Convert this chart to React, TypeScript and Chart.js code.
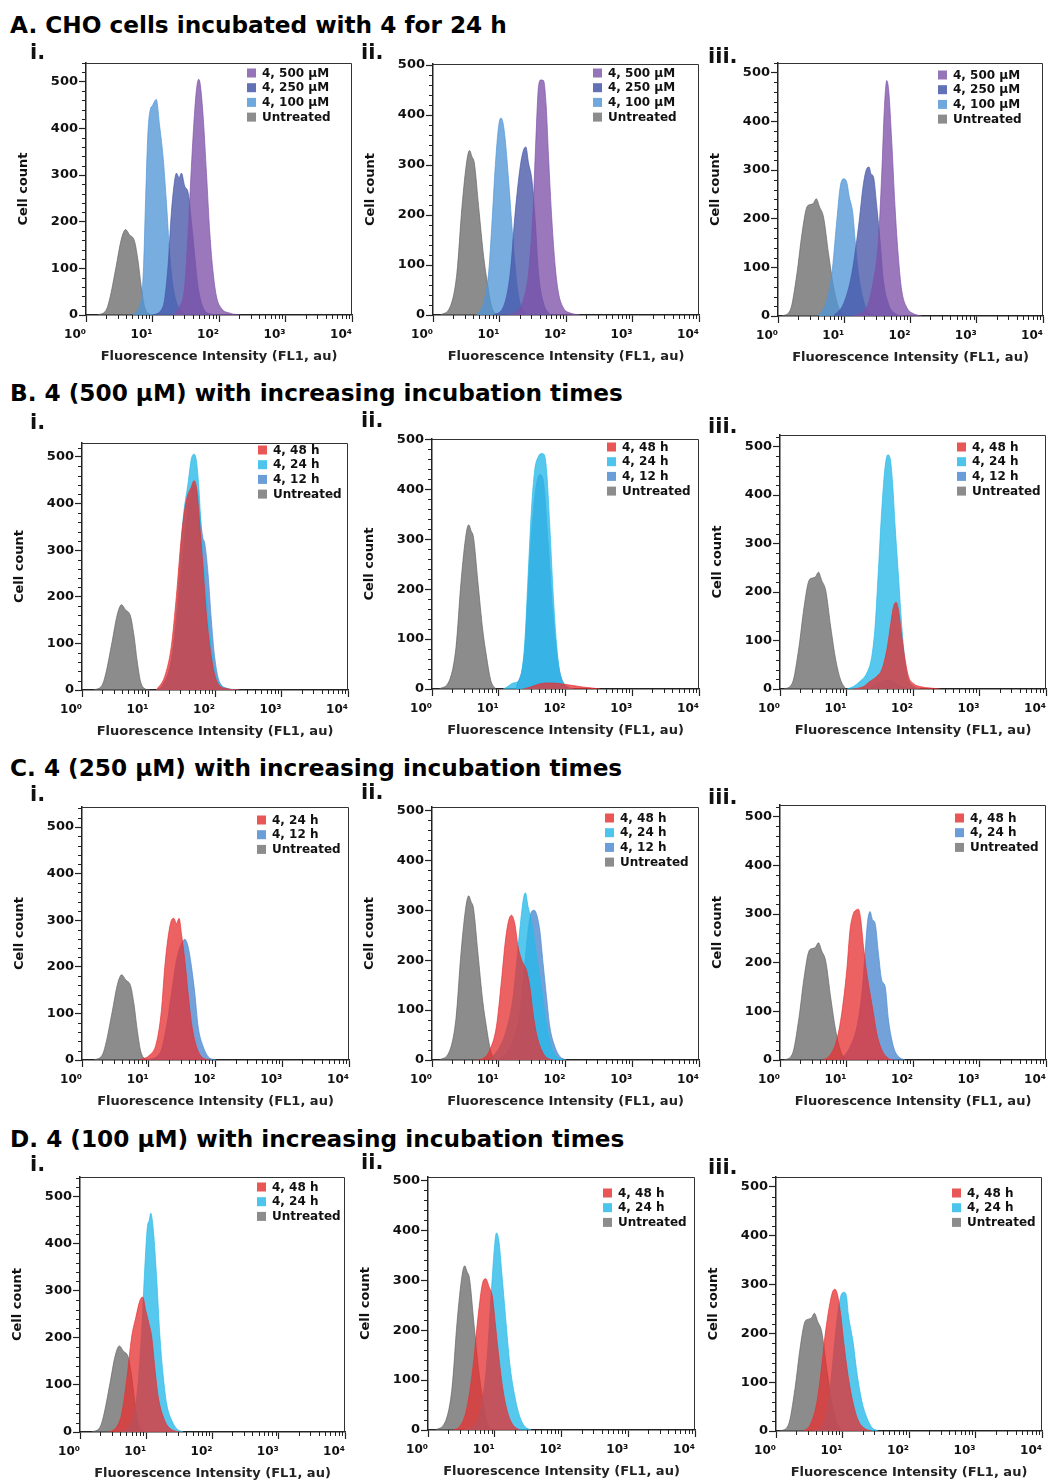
import React, { useEffect, useRef } from 'react';
import { Chart, registerables } from 'chart.js';

Chart.register(...registerables);
Chart.defaults.font.family = '"DejaVu Sans", sans-serif';
Chart.defaults.font.weight = 'bold';
Chart.defaults.color = '#111';

type Pt = [number, number];

// ---- axis ticks ----
const xTickValues = [1, 10, 100, 1000, 10000];
const xTickLabels = ['10⁰', '10¹', '10²', '10³', '10⁴'];
const xMinorMultipliers = [2, 3, 4, 5, 6, 7, 8, 9];
const yTickValues = [0, 100, 200, 300, 400, 500];
const yMinorStep = 20;

// ---- texts ----
const sectionTitles = [
  'A. CHO cells incubated with 4 for 24 h',
  'B. 4 (500 µM) with increasing incubation times',
  'C. 4 (250 µM) with increasing incubation times',
  'D. 4 (100 µM) with increasing incubation times',
];
const panelNumerals = ['i.', 'ii.', 'iii.'];
const xTitle = 'Fluorescence Intensity (FL1, au)';
const yTitle = 'Cell count';

// ---- series: [intensity (FL1, au), cell count] ----
const untreatedI: Pt[] = [[1.5, 0], [2.0, 10], [2.25, 32], [2.84, 104], [3.38, 161], [3.93, 183], [4.51, 172], [5.37, 158], [6.03, 118], [6.77, 61], [7.6, 18], [9.0, 2], [10.5, 0]];
const untreatedII: Pt[] = [[1.29, 0], [1.82, 17], [2.29, 84], [2.73, 217], [3.24, 310], [3.55, 329], [3.85, 317], [4.18, 304], [4.85, 217], [5.77, 117], [6.47, 70], [7.6, 17], [9.0, 0]];
const untreatedIII: Pt[] = [[1.15, 0], [1.53, 12], [1.93, 87], [2.3, 169], [2.73, 224], [3.07, 229], [3.44, 232], [3.78, 241], [4.24, 224], [4.87, 203], [5.79, 128], [6.89, 60], [8.19, 18], [9.74, 0]];

const a1_100: Pt[] = [[5.07, 0], [6.77, 32], [7.34, 104], [7.87, 247], [8.53, 390], [9.25, 440], [9.92, 448], [11.4, 462], [12.8, 405], [14.4, 340], [16.1, 247], [18.1, 133], [20.4, 61], [24.2, 18], [32.4, 0]];
const a1_250: Pt[] = [[10.2, 0], [14.4, 18], [17.1, 104], [19.2, 218], [21.6, 290], [22.9, 304], [25.1, 294], [27.2, 304], [30.5, 276], [34.3, 262], [38.5, 200], [43, 130], [48.5, 60], [58, 15], [75, 2], [92, 0]];
const a1_500: Pt[] = [[20.4, 0], [25.7, 18], [30.5, 61], [34.3, 175], [38.5, 319], [43.2, 440], [46.9, 494], [49.7, 505], [52.6, 491], [57.7, 426], [64.8, 304], [72.8, 175], [81.7, 90], [91.8, 39], [109, 14], [146, 4], [207, 0]];

const a2_100: Pt[] = [[4.58, 0], [5.77, 24], [6.86, 84], [7.7, 184], [8.63, 297], [9.69, 377], [10.5, 394], [11.3, 384], [12.2, 350], [13.7, 270], [15.4, 177], [17.2, 97], [19.4, 37], [23.0, 7], [29.0, 0]];
const a2_250: Pt[] = [[8.15, 0], [11.5, 17], [14.5, 84], [17.2, 204], [20.5, 297], [23.0, 330], [24.9, 336], [27.3, 304], [30.7, 270], [34.4, 190], [38.6, 84], [45.9, 24], [57.8, 0]];
const a2_500: Pt[] = [[12.9, 0], [18.3, 7], [23.0, 31], [27.3, 84], [31.8, 204], [35.2, 350], [38.6, 457], [41.9, 470], [45.9, 469], [50.4, 417], [54.6, 317], [61.3, 190], [68.8, 97], [77.1, 44], [91.7, 14], [116, 4], [163, 0]];

const a3_100: Pt[] = [[4.1, 0], [5.47, 32], [6.5, 87], [7.73, 197], [8.68, 265], [9.74, 282], [10.9, 275], [11.9, 245], [13.5, 210], [14.6, 155], [16.4, 87], [19.5, 32], [23.2, 8], [31.0, 0]];
const a3_250: Pt[] = [[6.89, 0], [9.74, 25], [13.0, 87], [16.4, 183], [19.5, 272], [21.9, 303], [23.7, 306], [25.4, 292], [27.6, 286], [31.0, 224], [34.7, 155], [39.0, 73], [46.4, 25], [58.4, 5], [78, 0]];
const a3_500: Pt[] = [[13.8, 0], [21.9, 18], [27.6, 73], [32.8, 155], [36.8, 292], [40.4, 429], [43.8, 484], [46.9, 463], [52.0, 361], [58.4, 224], [65.6, 121], [73.6, 53], [87.5, 18], [110, 5], [147, 0]];

const b1_48: Pt[] = [[13.1, 0], [17.5, 29], [22.0, 93], [26.2, 200], [31.2, 329], [37.1, 407], [44.1, 436], [48.3, 449], [52.4, 436], [58.8, 357], [66.0, 264], [74.1, 164], [88.1, 71], [105, 21], [148, 3], [235, 0]];
const b1_24: Pt[] = [[13.1, 0], [18.5, 21], [23.4, 93], [27.8, 207], [33.0, 364], [39.3, 443], [44.1, 496], [48.3, 506], [52.4, 493], [57.5, 429], [62.3, 340], [66.0, 293], [78.5, 164], [93.3, 64], [111, 18], [148, 4], [209, 0]];
const b1_12: Pt[] = [[15, 0], [22, 60], [28, 170], [35, 320], [42, 410], [48, 440], [55, 420], [62.3, 350], [66.0, 325], [69.9, 316], [78.5, 250], [88.1, 150], [98.9, 70], [118, 16], [166, 2], [230, 0]];

const b2_48: Pt[] = [[23, 0], [30, 4], [38, 9], [50, 12], [65, 12], [90, 10], [130, 7], [180, 4], [250, 2], [330, 0]];
const b2_24: Pt[] = [[11.6, 0], [13.0, 3], [16.4, 12], [19.5, 15], [21.9, 32], [24.5, 92], [27.5, 226], [30.9, 360], [34.7, 440], [38.9, 465], [43.7, 472], [47.9, 470], [51.9, 440], [58.2, 326], [65.3, 193], [73.3, 92], [82.2, 32], [97.7, 9], [130, 0]];
const b2_12: Pt[] = [[18, 0], [24.5, 79], [29.2, 259], [34.7, 387], [41.2, 430], [46.2, 420], [55.0, 293], [65.3, 146], [77.6, 52], [97.7, 8], [130, 0]];

const b3_48: Pt[] = [[12.7, 0], [18.0, 5], [22.6, 16], [28.5, 26], [33.9, 40], [40.4, 81], [46.4, 136], [50.9, 170], [55.8, 179], [60.5, 163], [67.9, 108], [76.2, 60], [85.5, 26], [102, 11], [128, 5], [181, 2], [256, 0]];
const b3_24: Pt[] = [[10.1, 0], [12.7, 5], [16.0, 16], [20.2, 33], [24.0, 67], [26.9, 129], [30.2, 246], [33.9, 370], [38.1, 459], [41.8, 483], [45.3, 476], [49.7, 418], [53.9, 335], [60.5, 232], [67.9, 129], [76.2, 54], [85.5, 19], [102, 5], [128, 0]];
const b3_12: Pt[] = [[20.2, 0], [28.5, 9], [40.4, 19], [53.9, 12], [70, 4], [95, 0]];

const c1_24: Pt[] = [[7.33, 0], [10.4, 11], [13.0, 36], [15.5, 107], [17.4, 200], [19.5, 264], [21.9, 300], [23.7, 304], [26.0, 293], [28.5, 304], [30.9, 271], [34.7, 214], [38.9, 143], [43.7, 79], [51.9, 29], [61.7, 7], [82.2, 0]];
const c1_12: Pt[] = [[9.23, 0], [14.6, 14], [18.4, 71], [21.9, 143], [26.0, 214], [30.9, 250], [34.7, 259], [38.9, 243], [43.7, 200], [49.0, 143], [55.0, 71], [65.3, 29], [77.6, 7], [103, 0]];

const c2_48: Pt[] = [[4.62, 0], [5.82, 3], [7.33, 20], [9.23, 67], [11.0, 160], [12.6, 240], [14.1, 280], [15.5, 290], [17.4, 273], [19.5, 227], [22.6, 197], [26.0, 180], [29.2, 147], [32.7, 93], [36.7, 53], [43.7, 20], [51.9, 5], [65.3, 0]];
const c2_24: Pt[] = [[7.33, 0], [10.4, 27], [13.0, 60], [16.4, 127], [19.5, 227], [21.9, 293], [23.7, 327], [25.1, 335], [27.5, 307], [30.9, 280], [36.7, 213], [43.7, 147], [51.9, 73], [61.7, 27], [73.3, 7], [92.3, 0]];
const c2_12: Pt[] = [[9.23, 0], [13.0, 13], [16.4, 40], [20.7, 93], [24.5, 193], [27.5, 260], [30.9, 297], [33.9, 300], [36.7, 293], [41.2, 260], [46.2, 193], [51.9, 127], [58.2, 67], [69.2, 27], [82.2, 7], [103, 0]];

const c3_48: Pt[] = [[4.49, 0], [5.66, 10], [7.13, 41], [8.48, 96], [10.1, 185], [11.3, 267], [12.7, 301], [13.9, 308], [15.1, 310], [16.4, 288], [18.0, 233], [20.2, 178], [22.6, 137], [25.4, 96], [28.5, 55], [33.9, 21], [42.8, 3], [50.9, 0]];
const c3_24: Pt[] = [[6.35, 0], [8.99, 7], [11.3, 27], [14.3, 68], [17.0, 137], [19.0, 219], [20.6, 281], [22.6, 305], [24.6, 288], [26.9, 281], [30.2, 219], [33.9, 164], [38.1, 151], [42.8, 82], [50.9, 27], [60.5, 7], [76.2, 0]];

const d1_48: Pt[] = [[2.84, 0], [3.58, 11], [4.26, 39], [5.06, 110], [6.02, 202], [7.0, 245], [8.05, 280], [8.83, 287], [9.8, 259], [11.0, 230], [12.1, 202], [13.6, 131], [15.2, 74], [18.1, 32], [21.5, 11], [27.2, 2], [32.3, 0]];
const d1_24: Pt[] = [[4.02, 0], [5.69, 14], [7.17, 74], [8.53, 216], [9.58, 358], [10.4, 436], [11.1, 450], [11.7, 465], [12.8, 429], [14.4, 323], [16.1, 202], [18.1, 117], [20.3, 60], [24.2, 25], [28.8, 7], [36.3, 0]];

const d2_48: Pt[] = [[2.37, 0], [2.99, 7], [3.76, 40], [4.73, 127], [5.62, 227], [6.53, 293], [7.33, 303], [8.22, 287], [9.23, 267], [10.2, 213], [11.5, 147], [13.3, 80], [15.8, 33], [18.8, 10], [23.7, 0]];
const d2_24: Pt[] = [[3.35, 0], [4.73, 7], [5.96, 33], [7.5, 127], [8.91, 280], [10.0, 373], [10.6, 395], [11.5, 380], [12.9, 307], [14.5, 227], [16.8, 133], [20.0, 67], [23.7, 27], [28.2, 7], [35.5, 0]];

const d3_48: Pt[] = [[2.57, 0], [3.24, 12], [4.08, 56], [4.85, 131], [5.44, 193], [6.32, 254], [7.1, 285], [7.69, 290], [8.34, 281], [9.36, 240], [10.5, 179], [12.2, 111], [14.5, 56], [17.2, 22], [21.7, 5], [27.3, 0]];
const d3_24: Pt[] = [[3.64, 0], [4.85, 8], [6.11, 56], [7.26, 152], [8.34, 234], [9.36, 275], [10.5, 284], [11.5, 275], [12.2, 240], [13.7, 200], [14.5, 180], [16.3, 124], [19.4, 63], [23.0, 29], [27.3, 8], [34.4, 0]];

// ---- styles ----
const COLORS: Record<string, { fill: string; line: string; swatch: string }> = {
  gray: { fill: 'rgba(104,104,104,0.76)', line: 'rgba(100,100,100,0.85)', swatch: '#8c8c8c' },
  light: { fill: 'rgba(82,150,215,0.78)', line: 'rgba(82,150,215,0.85)', swatch: '#6ea8dd' },
  dark: { fill: 'rgba(70,86,168,0.78)', line: 'rgba(70,86,168,0.85)', swatch: '#6270b6' },
  purple: { fill: 'rgba(126,82,168,0.78)', line: 'rgba(126,82,168,0.85)', swatch: '#9674b8' },
  red: { fill: 'rgba(230,48,50,0.76)', line: 'rgba(230,48,50,0.85)', swatch: '#e95656' },
  cyan: { fill: 'rgba(40,185,232,0.78)', line: 'rgba(40,185,232,0.85)', swatch: '#4cc4ec' },
  blue: { fill: 'rgba(76,136,208,0.78)', line: 'rgba(76,136,208,0.85)', swatch: '#6b9dd8' },
};

interface SeriesDef { label: string; data: Pt[]; color: string }
interface PanelDef { box: [number, number, number, number]; yMax: number; legend: [number, number]; series: SeriesDef[] }

const U = 'Untreated';
const panels: PanelDef[] = [
  { box: [86, 63, 352, 315], yMax: 540, legend: [161, 10], series: [
    { label: '4, 500 µM', data: a1_500, color: 'purple' }, { label: '4, 250 µM', data: a1_250, color: 'dark' },
    { label: '4, 100 µM', data: a1_100, color: 'light' }, { label: U, data: untreatedI, color: 'gray' }] },
  { box: [433, 64, 699, 315], yMax: 502, legend: [160, 9], series: [
    { label: '4, 500 µM', data: a2_500, color: 'purple' }, { label: '4, 250 µM', data: a2_250, color: 'dark' },
    { label: '4, 100 µM', data: a2_100, color: 'light' }, { label: U, data: untreatedII, color: 'gray' }] },
  { box: [778, 63, 1043, 316], yMax: 520, legend: [160, 12], series: [
    { label: '4, 500 µM', data: a3_500, color: 'purple' }, { label: '4, 250 µM', data: a3_250, color: 'dark' },
    { label: '4, 100 µM', data: a3_100, color: 'light' }, { label: U, data: untreatedIII, color: 'gray' }] },
  { box: [82, 443, 348, 690], yMax: 530, legend: [176, 7], series: [
    { label: '4, 48 h', data: b1_48, color: 'red' }, { label: '4, 24 h', data: b1_24, color: 'cyan' },
    { label: '4, 12 h', data: b1_12, color: 'blue' }, { label: U, data: untreatedI, color: 'gray' }] },
  { box: [432, 439, 699, 689], yMax: 501, legend: [175, 8], series: [
    { label: '4, 48 h', data: b2_48, color: 'red' }, { label: '4, 24 h', data: b2_24, color: 'cyan' },
    { label: '4, 12 h', data: b2_12, color: 'blue' }, { label: U, data: untreatedII, color: 'gray' }] },
  { box: [780, 435, 1046, 689], yMax: 524, legend: [177, 12], series: [
    { label: '4, 48 h', data: b3_48, color: 'red' }, { label: '4, 24 h', data: b3_24, color: 'cyan' },
    { label: '4, 12 h', data: b3_12, color: 'blue' }, { label: U, data: untreatedIII, color: 'gray' }] },
  { box: [82, 807, 349, 1060], yMax: 543, legend: [175, 13], series: [
    { label: '4, 24 h', data: c1_24, color: 'red' }, { label: '4, 12 h', data: c1_12, color: 'blue' },
    { label: U, data: untreatedI, color: 'gray' }] },
  { box: [432, 807, 699, 1060], yMax: 507, legend: [173, 11], series: [
    { label: '4, 48 h', data: c2_48, color: 'red' }, { label: '4, 24 h', data: c2_24, color: 'cyan' },
    { label: '4, 12 h', data: c2_12, color: 'blue' }, { label: U, data: untreatedII, color: 'gray' }] },
  { box: [780, 805, 1046, 1060], yMax: 524, legend: [175, 13], series: [
    { label: '4, 48 h', data: c3_48, color: 'red' }, { label: '4, 24 h', data: c3_24, color: 'blue' },
    { label: U, data: untreatedIII, color: 'gray' }] },
  { box: [80, 1177, 345, 1432], yMax: 542, legend: [177, 10], series: [
    { label: '4, 48 h', data: d1_48, color: 'red' }, { label: '4, 24 h', data: d1_24, color: 'cyan' },
    { label: U, data: untreatedI, color: 'gray' }] },
  { box: [428, 1177, 695, 1430], yMax: 507, legend: [175, 16], series: [
    { label: '4, 48 h', data: d2_48, color: 'red' }, { label: '4, 24 h', data: d2_24, color: 'cyan' },
    { label: U, data: untreatedII, color: 'gray' }] },
  { box: [776, 1177, 1042, 1431], yMax: 520, legend: [176, 16], series: [
    { label: '4, 48 h', data: d3_48, color: 'red' }, { label: '4, 24 h', data: d3_24, color: 'cyan' },
    { label: U, data: untreatedIII, color: 'gray' }] },
];

const titleLayout = { x: 10, size: 23.2, baselines: [33, 401, 776, 1147] };
const numeralLayout = { xs: [30, 361, 708], size: 21, baselines: [[60, 60, 64], [430, 428, 434], [802, 800, 805], [1172, 1170, 1175]] };

const PAD_L = 72, PAD_T = 12, PAD_R = 18, PAD_B = 50;

const framePlugin = {
  id: 'frame',
  afterDraw(chart: any) {
    const { ctx, chartArea: a } = chart;
    ctx.save();
    ctx.strokeStyle = '#333';
    ctx.lineWidth = 1;
    ctx.beginPath();
    ctx.moveTo(a.left, Math.round(a.top) + 0.5);
    ctx.lineTo(Math.round(a.right) - 0.5, Math.round(a.top) + 0.5);
    ctx.lineTo(Math.round(a.right) - 0.5, a.bottom);
    ctx.stroke();
    ctx.restore();
  },
};

const minorTicksPlugin = {
  id: 'minorTicks',
  afterDraw(chart: any) {
    const { ctx, chartArea: a, scales } = chart;
    const x = scales.x, y = scales.y;
    ctx.save();
    ctx.strokeStyle = '#222';
    ctx.lineWidth = 1;
    ctx.beginPath();
    for (let i = 0; i < xTickValues.length - 1; i++) {
      for (const m of xMinorMultipliers) {
        const px = Math.round(x.getPixelForValue(m * xTickValues[i])) + 0.5;
        ctx.moveTo(px, a.bottom);
        ctx.lineTo(px, a.bottom + 4);
      }
    }
    for (let v = yMinorStep; v <= y.max; v += yMinorStep) {
      if (yTickValues.includes(v)) continue;
      const py = Math.round(y.getPixelForValue(v)) + 0.5;
      ctx.moveTo(a.left - 4, py);
      ctx.lineTo(a.left, py);
    }
    ctx.stroke();
    ctx.restore();
  },
};

const legendPlugin = {
  id: 'sideLegend',
  afterDraw(chart: any, _args: any, opts: any) {
    const { ctx, chartArea: a } = chart;
    ctx.save();
    ctx.font = 'bold 12px "DejaVu Sans", sans-serif';
    ctx.textBaseline = 'middle';
    chart.data.datasets.forEach((ds: any, i: number) => {
      const cy = a.top + opts.y + i * 14.7;
      const sx = a.left + opts.x;
      ctx.fillStyle = ds.swatch;
      ctx.fillRect(sx, cy - 4.5, 9, 9);
      ctx.fillStyle = '#111';
      ctx.fillText(ds.label, sx + 15, cy + 0.5);
    });
    ctx.restore();
  },
};

function Panel({ p }: { p: PanelDef }) {
  const ref = useRef<HTMLCanvasElement>(null);
  const [L, T, R, B] = p.box;
  const w = PAD_L + (R - L) + PAD_R;
  const h = PAD_T + (B - T) + PAD_B;
  useEffect(() => {
    const chart = new Chart(ref.current as HTMLCanvasElement, {
      type: 'line',
      data: {
        datasets: p.series.map((s) => ({
          label: s.label,
          data: s.data.map(([x, y]) => ({ x, y })),
          backgroundColor: COLORS[s.color].fill,
          borderColor: COLORS[s.color].line,
          swatch: COLORS[s.color].swatch,
          borderWidth: 0.8,
          fill: 'origin',
          pointRadius: 0,
          cubicInterpolationMode: 'monotone',
        })) as any,
      },
      options: {
        responsive: false,
        animation: false,
        devicePixelRatio: 1,
        events: [],
        layout: { padding: { left: 0, top: PAD_T, right: PAD_R, bottom: 0 } },
        plugins: {
          legend: { display: false },
          tooltip: { enabled: false },
          sideLegend: { x: p.legend[0], y: p.legend[1] },
        } as any,
        scales: {
          x: {
            type: 'logarithmic',
            min: 1,
            max: 10000,
            bounds: 'data',
            z: 1,
            afterBuildTicks: (s: any) => { s.ticks = xTickValues.map((v) => ({ value: v, major: true })); },
            afterFit: (s: any) => { s.height = PAD_B; },
            ticks: {
              autoSkip: false,
              maxRotation: 0,
              minRotation: 0,
              align: 'end',
              padding: 6,
              color: '#111',
              font: { size: 12, weight: 'bold' },
              callback: (v: any) => xTickLabels[xTickValues.indexOf(Number(v))] ?? '',
            },
            grid: { display: true, drawOnChartArea: false, drawTicks: true, tickLength: 7, tickColor: '#222', tickWidth: 1.2 },
            border: { display: true, color: '#222', width: 1.5 },
            title: { display: true, text: xTitle, color: '#222', font: { size: 13, weight: 'bold' }, padding: { top: 0, bottom: 1 } },
          },
          y: {
            type: 'linear',
            min: 0,
            max: p.yMax,
            bounds: 'data',
            z: 1,
            afterBuildTicks: (s: any) => { s.ticks = yTickValues.map((v) => ({ value: v })); },
            afterFit: (s: any) => { s.width = PAD_L; },
            ticks: { padding: 1, color: '#111', font: { size: 13, weight: 'bold' } },
            grid: { display: true, drawOnChartArea: false, drawTicks: true, tickLength: 7, tickColor: '#222', tickWidth: 1.2 },
            border: { display: true, color: '#222', width: 1.5 },
            title: { display: true, text: yTitle, color: '#111', font: { size: 13, weight: 'bold' }, padding: { top: 2, bottom: 0 } },
          },
        } as any,
      },
      plugins: [framePlugin, minorTicksPlugin, legendPlugin],
    });
    return () => chart.destroy();
  }, []);
  return (
    <canvas
      ref={ref}
      width={w}
      height={h}
      style={{ position: 'absolute', left: L - PAD_L, top: T - PAD_T, width: w, height: h }}
    />
  );
}

const FONT = '"DejaVu Sans", sans-serif';

export default function App() {
  return (
    <div style={{ position: 'absolute', left: 0, top: 0, width: 1052, height: 1481, background: '#fff', overflow: 'hidden' }}>
      {panels.map((p, i) => <Panel key={i} p={p} />)}
      {sectionTitles.map((t, i) => (
        <div key={'t' + i} style={{
          position: 'absolute', left: titleLayout.x, top: titleLayout.baselines[i] - 0.846 * titleLayout.size,
          fontFamily: FONT, fontWeight: 'bold', fontSize: titleLayout.size, lineHeight: 1, whiteSpace: 'nowrap', color: '#000',
        }}>{t}</div>
      ))}
      {numeralLayout.baselines.map((row, r) => row.map((b, c) => (
        <div key={'n' + r + c} style={{
          position: 'absolute', left: numeralLayout.xs[c], top: b - 0.846 * numeralLayout.size,
          fontFamily: FONT, fontWeight: 'bold', fontSize: numeralLayout.size, lineHeight: 1, whiteSpace: 'nowrap', color: '#111',
        }}>{panelNumerals[c]}</div>
      )))}
    </div>
  );
}
